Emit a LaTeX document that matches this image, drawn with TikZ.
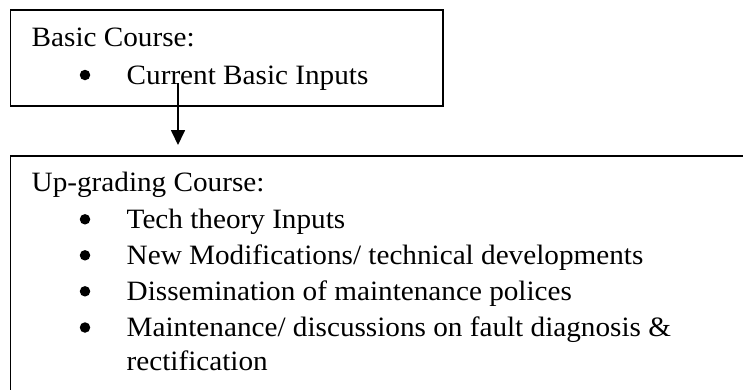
\documentclass[tikz,border=0pt]{standalone}
\usepackage{fontspec}
\setmainfont{Liberation Serif}[FakeStretch=1.043]
\usetikzlibrary{arrows.meta}
\tikzset{
  boxframe/.style={draw=black, line width=1.9pt, rectangle, inner sep=0pt, anchor=north west},
  txt/.style={anchor=base west, inner sep=0pt, font=\fontsize{28}{33}\selectfont},
  bul/.style={circle, fill=black, inner sep=0pt, minimum size=10.5pt},
  flow/.style={line width=1.7pt, -{Triangle[width=14pt,length=15pt]}}
}
\begin{document}
\begin{tikzpicture}[x=1pt,y=-1pt]
\useasboundingbox[fill=white] (0,0) rectangle (743,389);
% boxes
\node[boxframe, minimum width=432.5pt, minimum height=95.7pt] (basic) at (9.5,9.3) {};
\node[boxframe, minimum width=760pt, minimum height=260pt] (upgr) at (9.5,155) {};
% top box text
\node[txt] (t1) at (31.5,46.7) {Basic Course:};
\node[bul] (b1) at (85,84-9) {};
\node[txt] (t2) at (126.5,84) {Current Basic Inputs};
% bottom box text
\node[txt] (u0) at (31.5,191) {Up-grading Course:};
\node[bul] (c1) at (85,228.3-9) {};
\node[txt] (u1) at (126.5,228.3) {Tech theory Inputs};
\node[bul] (c2) at (85,264.3-9) {};
\node[txt] (u2) at (126.5,264.3) {New Modifications/ technical developments};
\node[bul] (c3) at (85,300.3-9) {};
\node[txt] (u3) at (126.5,300.3) {Dissemination of maintenance polices};
\node[bul] (c4) at (85,336.5-9) {};
\node[txt] (u4) at (126.5,336.5) {Maintenance/ discussions on fault diagnosis \&};
\node[txt] (u5) at (126.5,370) {rectification};
% connector
\coordinate (s) at (178,83);
\coordinate (e) at (178,145);
\draw[flow] (s) -- (e);
\end{tikzpicture}
\end{document}
